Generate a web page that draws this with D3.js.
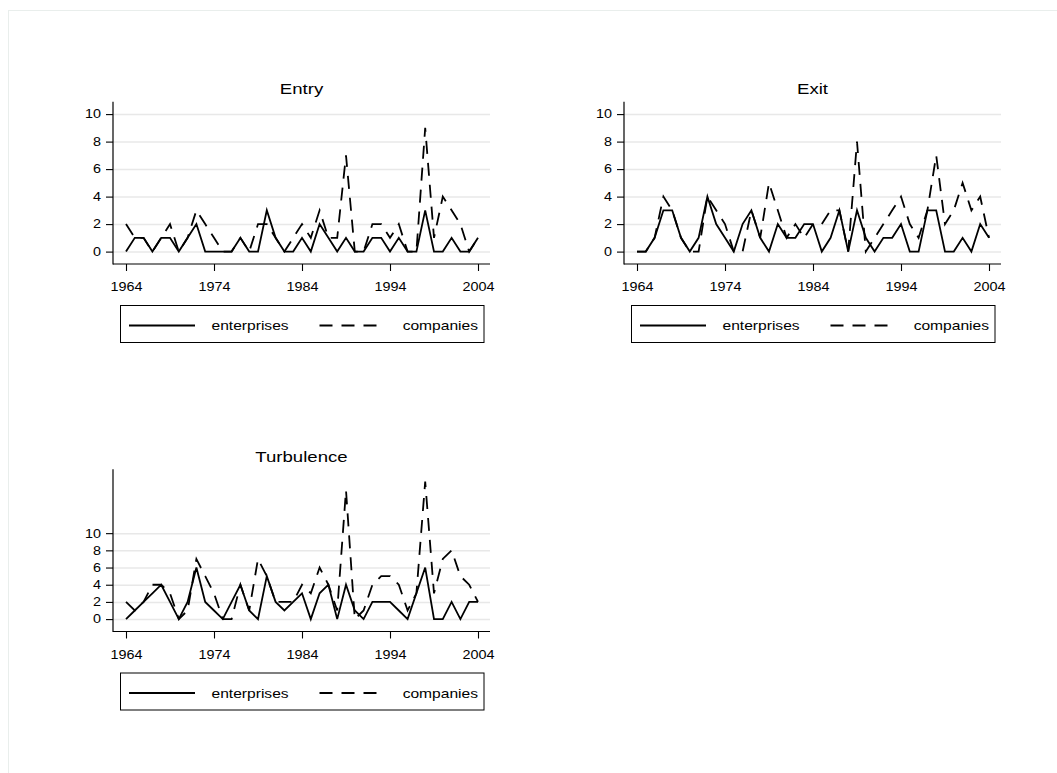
<!DOCTYPE html>
<html>
<head>
<meta charset="utf-8">
<script src="https://cdn.jsdelivr.net/npm/d3@7"></script>
<style>
  body { margin: 0; background: #fff; }
  svg { display: block; }
  text { font-family: "Liberation Sans", Arial, Helvetica, sans-serif; fill: #000; }
</style>
</head>
<body>
<svg id="chart" width="1057" height="773"></svg>
<script>
// Years observed, 1964-2004
const years = d3.range(1964, 2005);
const xTicks = [1964, 1974, 1984, 1994, 2004];
const yTicks = [0, 2, 4, 6, 8, 10];
const seriesNames = ["enterprises", "companies"];

// Entry counts per year
const entryEnterprises = [0,1,1,0,1,1,0,1,2,0,0,0,0,1,0,0,3,1,0,0,1,0,2,1,0,1,0,0,1,1,0,1,0,0,3,0,0,1,0,0,1];
const entryCompanies   = [2,1,1,0,1,2,0,1,3,2,1,0,0,1,0,2,2,1,0,1,2,1,3,1,1,7,0,0,2,2,1,2,0,0,9,1,4,3,2,0,1];

// Exit counts per year
const exitEnterprises  = [0,0,1,3,3,1,0,1,4,2,1,0,2,3,1,0,2,1,1,2,2,0,1,3,0,3,1,0,1,1,2,0,0,3,3,0,0,1,0,2,1];
const exitCompanies    = [0,0,1,4,3,1,0,0,4,3,2,0,0,3,1,5,3,1,2,1,2,2,3,3,0,8,0,1,2,3,4,2,1,3,7,2,3,5,3,4,1];

// Turbulence (entries plus exits) per year
const turbEnterprises  = [0,1,2,3,4,2,0,2,6,2,1,0,2,4,1,0,5,2,1,2,3,0,3,4,0,4,1,0,2,2,2,1,0,3,6,0,0,2,0,2,2];
const turbCompanies    = [2,1,2,4,4,3,0,1,7,5,3,0,0,4,1,7,5,2,2,2,4,3,6,4,1,15,0,1,4,5,5,4,1,3,16,3,7,8,5,4,2];

const panels = [
  { title: "Entry",      ox: 0,   oy: 0,     a: entryEnterprises, b: entryCompanies },
  { title: "Exit",       ox: 511, oy: 0,     a: exitEnterprises,  b: exitCompanies },
  { title: "Turbulence", ox: 0,   oy: 367.5, a: turbEnterprises,  b: turbCompanies }
];

const svg = d3.select("#chart");
const STRETCH = 1.2;   // horizontal stretch applied to all lettering
const DASH = "13 9";

// faint outer frame of the graph region
svg.append("rect")
  .attr("x", 8.5).attr("y", 10.5)
  .attr("width", 1100).attr("height", 800)
  .attr("fill", "none").attr("stroke", "#e9eeec").attr("stroke-width", 1);

function label(g, x, y, str, size, anchor) {
  g.append("text")
    .attr("transform", `translate(${x},${y}) scale(${STRETCH},1)`)
    .attr("text-anchor", anchor || "middle")
    .style("font-size", size + "px")
    .text(str);
}

panels.forEach(p => {
  const g = svg.append("g").attr("transform", `translate(${p.ox},${p.oy})`);
  const left = 113, right = 490, top = 101.7, bottom = 264, pad = 12.4;

  const x = d3.scaleLinear().domain([1964, 2004]).range([126, 478]);
  const yMax = Math.max(10, d3.max(p.a.concat(p.b)));
  const y = d3.scaleLinear().domain([0, yMax]).range([bottom - pad, top + pad]);

  // horizontal grid
  g.append("g")
    .attr("transform", `translate(${left},0)`)
    .call(d3.axisLeft(y).tickValues(yTicks).tickSize(-(right - left)).tickFormat(""))
    .call(s => s.select(".domain").remove())
    .call(s => s.selectAll("line").attr("stroke", "#e8e8e8").attr("stroke-width", 1.5));

  // series lines
  const line = d3.line().x((d, i) => x(years[i])).y(d => y(d));
  g.append("path").datum(p.a)
    .attr("d", line).attr("fill", "none")
    .attr("stroke", "#000").attr("stroke-width", 1.8);
  g.append("path").datum(p.b)
    .attr("d", line).attr("fill", "none")
    .attr("stroke", "#000").attr("stroke-width", 1.8)
    .attr("stroke-dasharray", DASH);

  // y axis
  const yAx = g.append("g")
    .attr("transform", `translate(${left},0)`)
    .call(d3.axisLeft(y).tickValues(yTicks).tickSize(7).tickSizeOuter(0));
  yAx.select(".domain").remove();
  yAx.selectAll("line").attr("stroke", "#000").attr("stroke-width", 1.1);
  yAx.selectAll("text")
    .attr("x", -12 / STRETCH)
    .attr("transform", `scale(${STRETCH},1)`)
    .style("font-size", "12px")
    .attr("fill", "#000")
    .style("font-family", null);

  // x axis
  const xAx = g.append("g")
    .attr("transform", `translate(0,${bottom})`)
    .call(d3.axisBottom(x).tickValues(xTicks).tickFormat(d3.format("d")).tickSize(7).tickPadding(11.8).tickSizeOuter(0));
  xAx.select(".domain").remove();
  xAx.selectAll("line").attr("stroke", "#000").attr("stroke-width", 1.1);
  xAx.selectAll("text")
    .attr("transform", `scale(${STRETCH},1)`)
    .style("font-size", "12px")
    .attr("fill", "#000")
    .style("font-family", null);

  // axis lines
  g.append("line").attr("x1", left).attr("x2", left).attr("y1", top).attr("y2", bottom + 0.5)
    .attr("stroke", "#000").attr("stroke-width", 1.2);
  g.append("line").attr("x1", left).attr("x2", right).attr("y1", bottom).attr("y2", bottom)
    .attr("stroke", "#000").attr("stroke-width", 1.2);

  // title
  label(g, (left + right) / 2, 94, p.title, 15.5);

  // legend
  const lg = g.append("g");
  lg.append("rect").attr("x", 120.5).attr("y", 305.5).attr("width", 363.5).attr("height", 37)
    .attr("fill", "#fff").attr("stroke", "#000").attr("stroke-width", 1);
  lg.append("line").attr("x1", 129).attr("x2", 195).attr("y1", 325.5).attr("y2", 325.5)
    .attr("stroke", "#000").attr("stroke-width", 1.8);
  label(lg, 211.5, 330, seriesNames[0], 13, "start");
  lg.append("line").attr("x1", 319.5).attr("x2", 376.5).attr("y1", 325.5).attr("y2", 325.5)
    .attr("stroke", "#000").attr("stroke-width", 1.8).attr("stroke-dasharray", DASH);
  label(lg, 478, 330, seriesNames[1], 13, "end");
});
</script>
</body>
</html>
